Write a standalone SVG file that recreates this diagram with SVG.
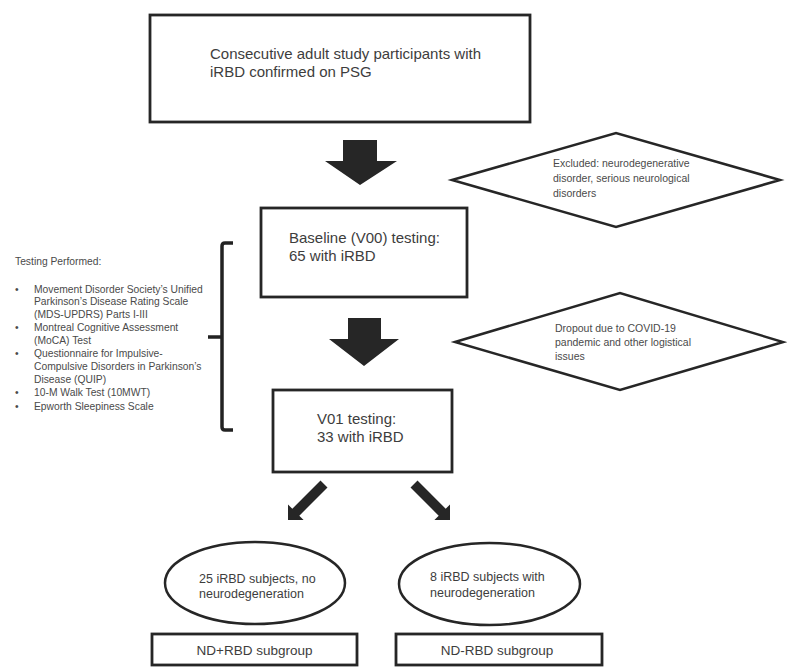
<svg xmlns="http://www.w3.org/2000/svg" width="787" height="669" viewBox="0 0 787 669">
<style>
  .box { fill: #ffffff; stroke: #262626; stroke-width: 2.8; }
  .shape { fill: #ffffff; stroke: #262626; stroke-width: 2.5; }
  .arrow { fill: #262626; stroke: none; }
  text { font-family: "Liberation Sans", Arial, sans-serif; fill: #3d3d3d; }
  .t15 { font-size: 15px; }
  .t13 { font-size: 12.5px; }
  .t11 { font-size: 10.5px; fill: #4a4a4a; }
  .t10 { font-size: 10.3px; fill: #4a4a4a; }
  .sub { font-size: 13.5px; text-anchor: middle; }
</style>
<rect width="787" height="669" fill="#ffffff"/>

<g id="connectors">
  <polygon class="arrow" points="343,140 377,140 377,161 397,161 360,185 325,161 343,161"/>
  <polygon class="arrow" points="348,318 381,318 381,339 399,339 364,366 329,339 348,339"/>
  <polygon class="arrow" points="320.5,480.5 327.5,487.5 299.3,515.7 303.6,520 288,520 288,504.4 292.3,508.7"/>
  <polygon class="arrow" points="417.5,480.5 410.5,487.5 438.7,515.7 434.4,520 450,520 450,504.4 445.7,508.7"/>
</g>

<g id="participants">
  <rect class="box" x="150" y="15" width="380" height="107"/>
  <text class="t15" x="210" y="59">Consecutive adult study participants with</text>
  <text class="t15" x="210" y="77">iRBD confirmed on PSG</text>
</g>

<g id="excluded">
  <polygon class="shape" points="452,180 616,133 780,180 616,227"/>
  <text class="t11" x="553" y="167">Excluded: neurodegenerative</text>
  <text class="t11" x="553" y="182">disorder, serious neurological</text>
  <text class="t11" x="553" y="197">disorders</text>
</g>

<g id="baseline">
  <rect class="box" x="261" y="208" width="206" height="89"/>
  <text class="t15" x="289" y="243">Baseline (V00) testing:</text>
  <text class="t15" x="289" y="261">65 with iRBD</text>
</g>

<g id="testing-performed">
  <text class="t10" x="15" y="265">Testing Performed:</text>
  <text class="t10" x="15" y="293">•</text>
  <text class="t10" x="34" y="293">Movement Disorder Society’s Unified</text>
  <text class="t10" x="34" y="305">Parkinson’s Disease Rating Scale</text>
  <text class="t10" x="34" y="318">(MDS-UPDRS) Parts I-III</text>
  <text class="t10" x="15" y="331">•</text>
  <text class="t10" x="34" y="331">Montreal Cognitive Assessment</text>
  <text class="t10" x="34" y="344">(MoCA) Test</text>
  <text class="t10" x="15" y="357">•</text>
  <text class="t10" x="34" y="357">Questionnaire for Impulsive-</text>
  <text class="t10" x="34" y="370">Compulsive Disorders in Parkinson’s</text>
  <text class="t10" x="34" y="383">Disease (QUIP)</text>
  <text class="t10" x="15" y="396">•</text>
  <text class="t10" x="34" y="396">10-M Walk Test (10MWT)</text>
  <text class="t10" x="15" y="410">•</text>
  <text class="t10" x="34" y="410">Epworth Sleepiness Scale</text>
  <path d="M233,243 L225,243 Q222,243 222,246 L222,427 Q222,430 225,430 L233,430 M208,337 L222,337" fill="none" stroke="#222222" stroke-width="3.5"/>
</g>

<g id="dropout">
  <polygon class="shape" points="455,342 620,293 783,342 620,390"/>
  <text class="t11" x="555" y="332">Dropout due to COVID-19</text>
  <text class="t11" x="555" y="346">pandemic and other logistical</text>
  <text class="t11" x="555" y="360">issues</text>
</g>

<g id="v01">
  <rect class="box" x="273" y="390" width="179" height="82"/>
  <text class="t15" x="317" y="424">V01 testing:</text>
  <text class="t15" x="317" y="442">33 with iRBD</text>
</g>

<g id="no-neurodegeneration">
  <ellipse class="shape" cx="255" cy="583" rx="90" ry="41"/>
  <text class="t13" x="199" y="583">25 iRBD subjects, no</text>
  <text class="t13" x="199" y="598">neurodegeneration</text>
</g>

<g id="with-neurodegeneration">
  <ellipse class="shape" cx="489.5" cy="584" rx="90.5" ry="41"/>
  <text class="t13" x="430" y="581">8 iRBD subjects with</text>
  <text class="t13" x="430" y="597">neurodegeneration</text>
</g>

<g id="nd-plus-rbd">
  <rect class="box" x="152" y="634" width="205" height="31"/>
  <text class="sub" x="254.5" y="655">ND+RBD subgroup</text>
</g>

<g id="nd-minus-rbd">
  <rect class="box" x="396" y="634" width="206" height="31"/>
  <text class="sub" x="497" y="655">ND-RBD subgroup</text>
</g>
</svg>
